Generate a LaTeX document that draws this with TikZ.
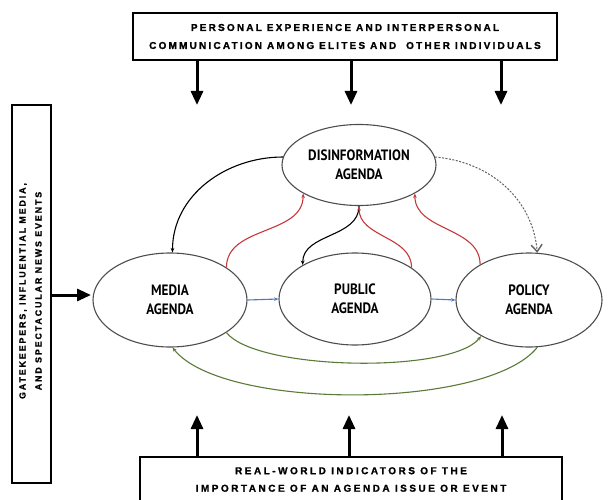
\documentclass[tikz,border=0pt]{standalone}
\usepackage{fontspec}
\usetikzlibrary{shapes.geometric,arrows.meta}

% Fonts: spaced-out heavy capitals for the source boxes, a narrow bold sans for the agendas
\newfontfamily\capsfont[LetterSpace=22,FakeBold=1.2]{Liberation Sans Bold}
\newfontfamily\widecapsfont[LetterSpace=25,FakeBold=1.2]{Liberation Sans Bold}
\newfontfamily\agendafont[FakeStretch=0.88]{PT Sans}

\definecolor{linkred}{HTML}{C8383A}
\definecolor{linkblue}{HTML}{4A7CC4}
\definecolor{linkgreen}{HTML}{5A7A38}
\definecolor{rimgray}{HTML}{4D4D4D}
\definecolor{dashgray}{HTML}{606060}

\begin{document}
\begin{tikzpicture}[x=1pt,y=1pt,
  agenda/.style={ellipse, draw=rimgray, line width=1.1pt, inner sep=0pt, align=center,
    font=\agendafont\bfseries\fontsize{15}{19}\selectfont},
  srcbox/.style={draw, line width=2.6pt, inner sep=0pt, align=center,
    font=\capsfont\fontsize{10}{18}\selectfont},
  srctext/.style={inner sep=0pt, align=center,
    font=\capsfont\fontsize{8.8}{16}\selectfont},
  bigarrow/.style={line width=3pt, -{Triangle[length=14pt,width=12pt]}},
  tip/.style={-{Stealth[length=4.5pt,width=3.6pt]}},
  redlink/.style={tip, draw=linkred, line width=1.1pt},
  blacklink/.style={tip, draw=black, line width=1.1pt},
  bluelink/.style={tip, draw=linkblue, line width=1.1pt},
  greenlink/.style={tip, draw=linkgreen, line width=1.1pt},
  dashlink/.style={draw=dashgray, line width=1pt, dash pattern=on 2pt off 1.5pt,
    -{Straight Barb[length=7pt,width=11pt,line width=1.4pt]}}
]
\useasboundingbox (0,0) rectangle (610,499);

% Source boxes
\node[srcbox, minimum width=424pt, minimum height=47pt] (topbox) at (345,462.5)
  {PERSONAL EXPERIENCE AND INTERPERSONAL\\COMMUNICATION AMONG ELITES AND\ \ OTHER INDIVIDUALS};
\node[srcbox, minimum width=422pt, minimum height=45pt, font=\widecapsfont\fontsize{10}{17.5}\selectfont]
  (botbox) at (351,19.5)
  {REAL-WORLD INDICATORS OF THE\\IMPORTANCE OF AN AGENDA ISSUE OR EVENT};
\node[srcbox, minimum width=39pt, minimum height=378pt] (leftbox) at (31.5,205) {};
\node[srctext, rotate=90] (lefttext) at (30.5,208)
  {GATEKEEPERS, INFLUENTIAL MEDIA,\\AND SPECTACULAR NEWS EVENTS};

% Agendas
\node[agenda, minimum width=154pt, minimum height=81pt] (dis) at (359,334) {DISINFORMATION\\AGENDA};
\node[agenda, minimum width=154pt, minimum height=94pt] (media) at (170,199) {MEDIA\\AGENDA};
\node[agenda, minimum width=152pt, minimum height=92pt] (public) at (355,200) {PUBLIC\\AGENDA};
\node[agenda, minimum width=146pt, minimum height=94pt] (policy) at (529,199) {POLICY\\AGENDA};

% Heavy arrows from the source boxes
\coordinate (t1) at (197,394);
\coordinate (t2) at (351,394);
\coordinate (t3) at (501,394);
\coordinate (b1) at (197,84);
\coordinate (b2) at (349,84);
\coordinate (b3) at (502,84);
\coordinate (l1) at (91,204);
\draw[bigarrow] (topbox.south -| t1) -- (t1);
\draw[bigarrow] (topbox.south -| t2) -- (t2);
\draw[bigarrow] (topbox.south -| t3) -- (t3);
\draw[bigarrow] (botbox.north -| b1) -- (b1);
\draw[bigarrow] (botbox.north -| b2) -- (b2);
\draw[bigarrow] (botbox.north -| b3) -- (b3);
\draw[bigarrow] (leftbox.east |- l1) -- (l1);

% Disinformation links
\draw[blacklink] (dis.174) to[out=180,in=90] (media.87);
\draw[redlink] (media.30) to[out=90,in=-90] (dis.207);
\draw[blacklink] (dis.south) to[out=-90,in=90] (public.147);
\draw[redlink] (public.29) to[out=90,in=-90] (dis.south);
\draw[redlink] (policy.144) to[out=90,in=-90] (dis.-27);
\draw[dashlink] (dis.6) to[out=-5,in=95] (policy.80);

% Agenda-setting chain
\draw[bluelink] (media.east) -- (public.west);
\draw[bluelink] (public.east) -- (policy.west);
\draw[greenlink] (media.-30) .. controls +(30,-38) and +(-30,-38) .. (policy.217);
\draw[greenlink] (policy.-80) .. controls +(-50,-63) and +(50,-63) .. (media.-87);
\end{tikzpicture}
\end{document}
